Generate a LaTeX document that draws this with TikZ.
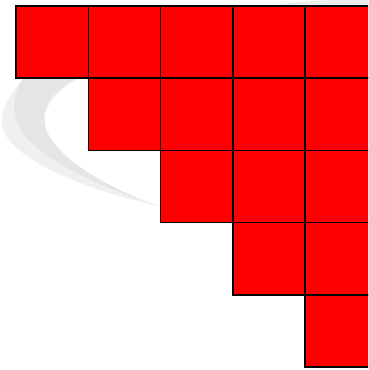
\documentclass[tikz,border=0pt]{standalone}
\begin{document}
\begin{tikzpicture}[x=1pt,y=-1pt,
  cell/.style={draw=black,fill=red,line width=1.6pt,rectangle,minimum size=72.3pt,inner sep=0pt,outer sep=0pt,anchor=center}]
\useasboundingbox (0,0) rectangle (368,370);
\clip (0,0) rectangle (368,370);
% watermark swoosh
\fill[black!6] (32,70) .. controls (12,90) and (0,108) .. (2,125)
  .. controls (6,158) and (90,192) .. (160,206)
  .. controls (110,192) and (52,160) .. (45,125)
  .. controls (42,105) and (60,85) .. (95,70) -- cycle;
\fill[black!10] (95,70) .. controls (55,85) and (40,105) .. (45,125)
  .. controls (50,155) and (110,190) .. (160,206)
  .. controls (90,185) and (20,150) .. (15,115)
  .. controls (12,95) and (20,80) .. (30,70) -- cycle;
\fill[black!7] (260,8) .. controls (290,1) and (330,-1) .. (368,0) -- (368,8) -- cycle;
% staircase of squares
\foreach \r in {0,...,4}{
  \foreach \c in {\r,...,4}{
    \node[cell] (s\r\c) at ({16+72.3*(\c+0.5)},{5.7+72.3*(\r+0.5)}) {};
  }
}
\end{tikzpicture}
\end{document}
